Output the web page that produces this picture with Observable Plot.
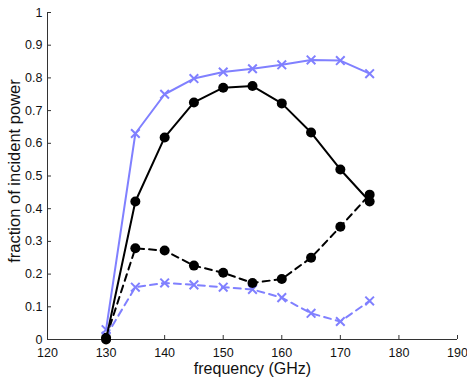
<!DOCTYPE html>
<html><head><meta charset="utf-8">
<script src="https://cdn.jsdelivr.net/npm/d3@7"></script>
<script src="https://cdn.jsdelivr.net/npm/@observablehq/plot@0.6"></script>
<style>
html,body{margin:0;padding:0;background:#fff;}
</style>
</head><body>
<div id="chart"></div>
<script>
const frequencies = [130, 135, 140, 145, 150, 155, 160, 165, 170, 175];
const blueSolid  = [0.03, 0.63, 0.75, 0.798, 0.818, 0.828, 0.840, 0.855, 0.853, 0.813];
const blackSolid = [0.0, 0.422, 0.618, 0.725, 0.770, 0.775, 0.722, 0.633, 0.520, 0.422];
const blackDashed = [0.005, 0.279, 0.272, 0.226, 0.204, 0.173, 0.185, 0.250, 0.345, 0.443];
const blueDashed = [0.01, 0.160, 0.173, 0.167, 0.160, 0.153, 0.128, 0.080, 0.055, 0.118];
const xTicks = [120, 130, 140, 150, 160, 170, 180, 190];
const yTicks = [0, 0.1, 0.2, 0.3, 0.4, 0.5, 0.6, 0.7, 0.8, 0.9, 1];
const xLabel = "frequency (GHz)";
const yLabel = "fraction of incident power";

const mk = (ys) => frequencies.map((f, i) => ({f, v: ys[i]}));
const dBlueSolid = mk(blueSolid), dBlackSolid = mk(blackSolid),
      dBlackDashed = mk(blackDashed), dBlueDashed = mk(blueDashed);
const blue = "#8080ff";

const chart = Plot.plot({
  width: 467, height: 378,
  marginLeft: 47, marginRight: 10, marginTop: 12, marginBottom: 39,
  style: {fontFamily: "Liberation Sans, Arial, sans-serif", fontSize: "12px", background: "#fff"},
  x: {domain: [120, 190]},
  y: {domain: [0, 1]},
  marks: [
    Plot.ruleY([0], {stroke: "#333"}),
    Plot.ruleX([120], {stroke: "#333"}),
    Plot.axisX({ticks: xTicks, tickSize: -4, tickPadding: 13, fontSize: 12.5, label: null, stroke: "#333", fill: "#111"}),
    Plot.axisY({ticks: yTicks, tickSize: -4, tickPadding: 9, fontSize: 12.5, tickFormat: d => String(d), label: null, stroke: "#333", fill: "#111"}),
    Plot.text([xLabel], {frameAnchor: "bottom", dy: 29, lineAnchor: "middle", fontSize: 16, fill: "#111"}),
    Plot.text([yLabel], {frameAnchor: "left", dx: -33, dy: -5, rotate: -90, textAnchor: "middle", lineAnchor: "middle", fontSize: 16.5, fill: "#111"}),
    Plot.line(dBlueDashed, {x: "f", y: "v", stroke: blue, strokeWidth: 2, strokeDasharray: "7,5"}),
    Plot.dot(dBlueDashed, {x: "f", y: "v", symbol: "times", stroke: blue, strokeWidth: 2, r: 4}),
    Plot.line(dBlackDashed, {x: "f", y: "v", stroke: "black", strokeWidth: 2, strokeDasharray: "7,5"}),
    Plot.dot(dBlackDashed, {x: "f", y: "v", fill: "black", r: 5}),
    Plot.line(dBlueSolid, {x: "f", y: "v", stroke: blue, strokeWidth: 2}),
    Plot.dot(dBlueSolid, {x: "f", y: "v", symbol: "times", stroke: blue, strokeWidth: 2, r: 4}),
    Plot.line(dBlackSolid, {x: "f", y: "v", stroke: "black", strokeWidth: 2}),
    Plot.dot(dBlackSolid, {x: "f", y: "v", fill: "black", r: 5})
  ]
});
document.getElementById("chart").appendChild(chart);
</script>
</body></html>
